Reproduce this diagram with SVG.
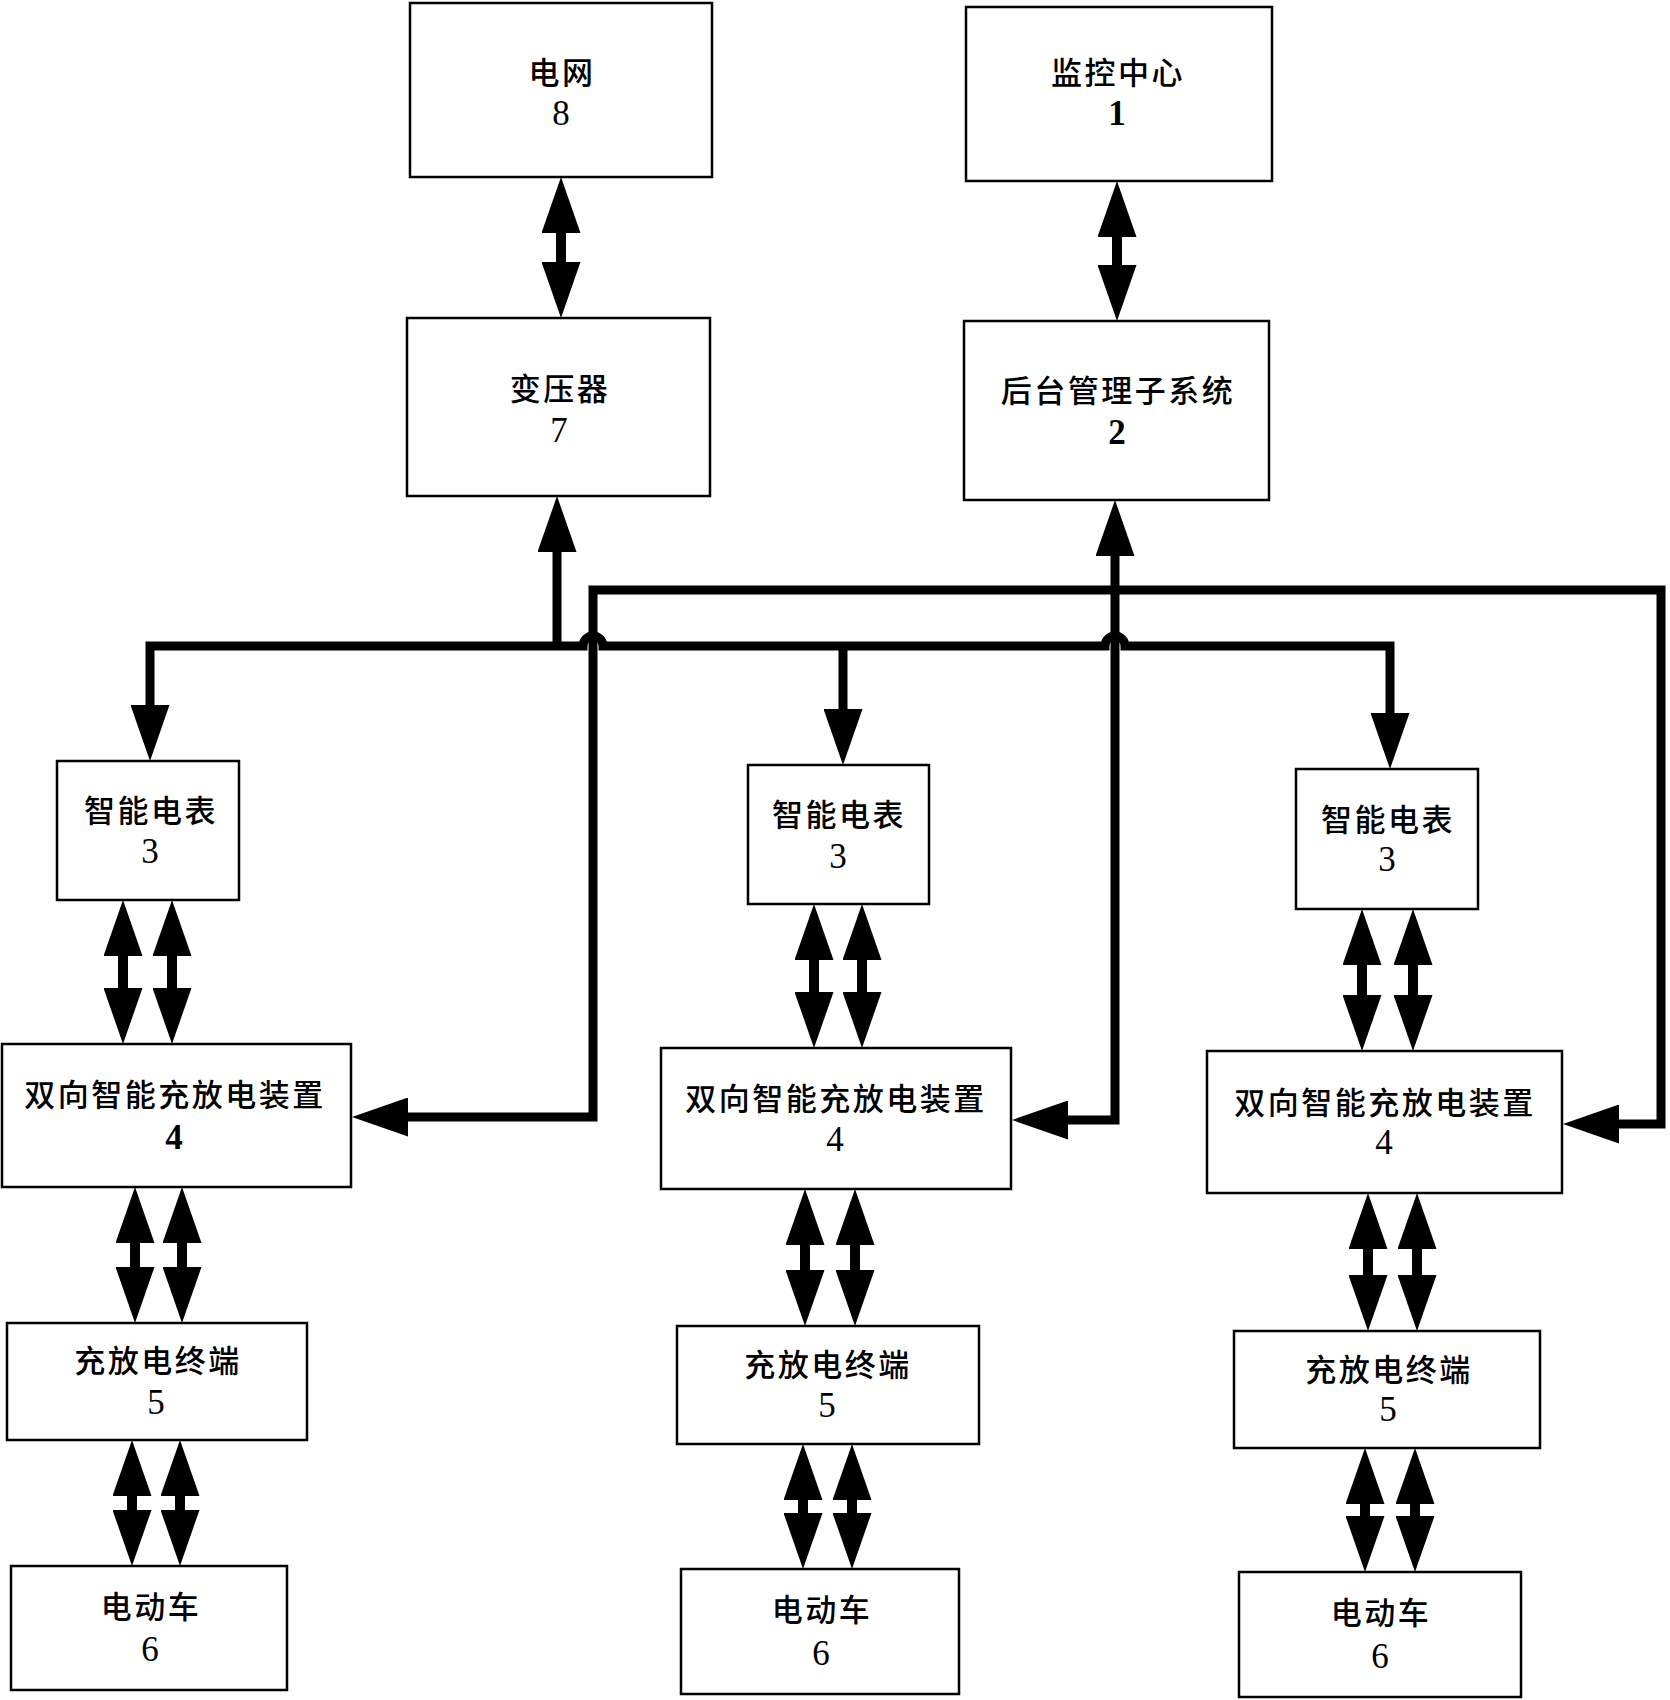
<svg xmlns="http://www.w3.org/2000/svg" width="1670" height="1700" viewBox="0 0 1670 1700">
<style>
.box{fill:#fff;stroke:#000;stroke-width:2.5}
.cn{font-family:"Noto Sans CJK SC","Noto Sans CJK JP",sans-serif;font-size:31px;font-weight:500;letter-spacing:2.5px;text-anchor:middle;fill:#000}
.num{font-family:"Liberation Serif","Times New Roman",serif;font-size:35px;text-anchor:middle;fill:#000}
.b{font-weight:bold}
.w{fill:none;stroke:#000;stroke-width:9;stroke-linejoin:miter}
.dbl{fill:none;stroke:#000;stroke-width:10;marker-start:url(#ah);marker-end:url(#ah)}
</style>
<defs>
<marker id="ah" markerUnits="userSpaceOnUse" viewBox="0 0 56 39" markerWidth="56" markerHeight="39" refX="40" refY="19.5" orient="auto-start-reverse">
<path d="M0,0 L56,19.5 L0,39 Z" fill="#000"/>
</marker>
</defs>

<g id="connectors">
<line class="dbl" x1="561" y1="193" x2="561" y2="302"/>
<line class="dbl" x1="1117" y1="197" x2="1117" y2="305"/>
<path class="w" d="M557,646 L557,512" marker-end="url(#ah)"/>
<path class="w" d="M150,745 L150,646 L583,646 A10,10 0 0 1 603,646 L1105,646 A10,10 0 0 1 1125,646 L1390,646 L1390,753" marker-start="url(#ah)" marker-end="url(#ah)"/>
<path class="w" d="M843,646 L843,749" marker-end="url(#ah)"/>
<path class="w" d="M368,1117 L593,1117 L593,590 L1661,590 L1661,1124 L1579,1124" marker-start="url(#ah)" marker-end="url(#ah)"/>
<path class="w" d="M1028,1120 L1115,1120 L1115,516" marker-start="url(#ah)" marker-end="url(#ah)"/>
<line class="dbl" x1="123" y1="916" x2="123" y2="1028"/>
<line class="dbl" x1="172" y1="916" x2="172" y2="1028"/>
<line class="dbl" x1="814" y1="920" x2="814" y2="1032"/>
<line class="dbl" x1="862" y1="920" x2="862" y2="1032"/>
<line class="dbl" x1="1362" y1="925" x2="1362" y2="1035"/>
<line class="dbl" x1="1413" y1="925" x2="1413" y2="1035"/>
<line class="dbl" x1="135" y1="1203" x2="135" y2="1307"/>
<line class="dbl" x1="182" y1="1203" x2="182" y2="1307"/>
<line class="dbl" x1="805" y1="1205" x2="805" y2="1310"/>
<line class="dbl" x1="855" y1="1205" x2="855" y2="1310"/>
<line class="dbl" x1="1368" y1="1209" x2="1368" y2="1315"/>
<line class="dbl" x1="1417" y1="1209" x2="1417" y2="1315"/>
<line class="dbl" x1="132" y1="1456" x2="132" y2="1550"/>
<line class="dbl" x1="180" y1="1456" x2="180" y2="1550"/>
<line class="dbl" x1="803" y1="1460" x2="803" y2="1553"/>
<line class="dbl" x1="852" y1="1460" x2="852" y2="1553"/>
<line class="dbl" x1="1365" y1="1464" x2="1365" y2="1556"/>
<line class="dbl" x1="1415" y1="1464" x2="1415" y2="1556"/>
</g>

<g id="node8">
<rect class="box" x="410" y="3" width="302" height="174"/>
<text class="cn" x="562" y="84">电网</text>
<text class="num" x="561" y="125">8</text>
</g>
<g id="node1">
<rect class="box" x="966" y="7" width="306" height="174"/>
<text class="cn" x="1118" y="84">监控中心</text>
<text class="num b" x="1117" y="125">1</text>
</g>
<g id="node7">
<rect class="box" x="407" y="318" width="303" height="178"/>
<text class="cn" x="560" y="400">变压器</text>
<text class="num" x="559" y="442">7</text>
</g>
<g id="node2">
<rect class="box" x="964" y="321" width="305" height="179"/>
<text class="cn" x="1118" y="402">后台管理子系统</text>
<text class="num b" x="1117" y="444">2</text>
</g>

<g id="meter1">
<rect class="box" x="57" y="761" width="182" height="139"/>
<text class="cn" x="151" y="822">智能电表</text>
<text class="num" x="150" y="863">3</text>
</g>
<g id="meter2">
<rect class="box" x="748" y="765" width="181" height="139"/>
<text class="cn" x="839" y="826">智能电表</text>
<text class="num" x="838" y="868">3</text>
</g>
<g id="meter3">
<rect class="box" x="1296" y="769" width="182" height="140"/>
<text class="cn" x="1388" y="831">智能电表</text>
<text class="num" x="1387" y="871">3</text>
</g>

<g id="device1">
<rect class="box" x="2" y="1044" width="349" height="143"/>
<text class="cn" x="175" y="1106">双向智能充放电装置</text>
<text class="num b" x="174" y="1149">4</text>
</g>
<g id="device2">
<rect class="box" x="661" y="1048" width="350" height="141"/>
<text class="cn" x="836" y="1110">双向智能充放电装置</text>
<text class="num" x="835" y="1151">4</text>
</g>
<g id="device3">
<rect class="box" x="1207" y="1051" width="355" height="142"/>
<text class="cn" x="1385" y="1114">双向智能充放电装置</text>
<text class="num" x="1384" y="1154">4</text>
</g>

<g id="terminal1">
<rect class="box" x="7" y="1323" width="300" height="117"/>
<text class="cn" x="158" y="1372">充放电终端</text>
<text class="num" x="156" y="1414">5</text>
</g>
<g id="terminal2">
<rect class="box" x="677" y="1326" width="302" height="118"/>
<text class="cn" x="828" y="1376">充放电终端</text>
<text class="num" x="827" y="1417">5</text>
</g>
<g id="terminal3">
<rect class="box" x="1234" y="1331" width="306" height="117"/>
<text class="cn" x="1389" y="1381">充放电终端</text>
<text class="num" x="1388" y="1421">5</text>
</g>

<g id="car1">
<rect class="box" x="11" y="1566" width="276" height="124"/>
<text class="cn" x="151" y="1618">电动车</text>
<text class="num" x="150" y="1661">6</text>
</g>
<g id="car2">
<rect class="box" x="681" y="1569" width="278" height="125"/>
<text class="cn" x="822" y="1621">电动车</text>
<text class="num" x="821" y="1665">6</text>
</g>
<g id="car3">
<rect class="box" x="1239" y="1572" width="282" height="125"/>
<text class="cn" x="1381" y="1624">电动车</text>
<text class="num" x="1380" y="1668">6</text>
</g>
</svg>
